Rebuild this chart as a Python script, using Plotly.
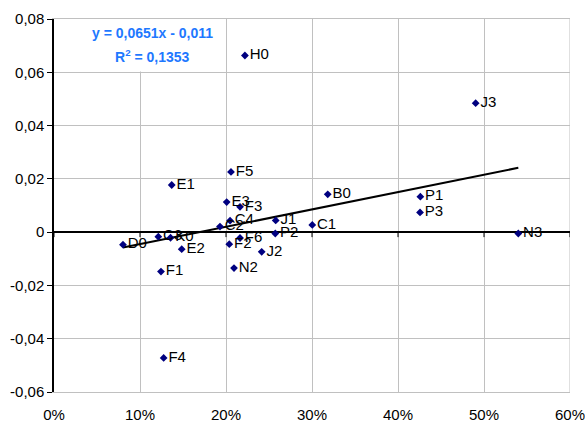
import plotly.graph_objects as go

# Share of sample (x) vs. relative change (y) for each group
labels = ["D0", "C3", "K0", "E2", "F1", "E1", "F4", "F5", "E3", "F3", "C4", "C2",
          "F6", "F2", "N2", "J2", "J1", "P2", "C1", "B0", "H0", "J3", "P1", "P3", "N3"]
x_vals = [0.0802, 0.1213, 0.1355, 0.1485, 0.1244, 0.1369, 0.1275, 0.2058, 0.2008,
          0.2163, 0.2047, 0.1930, 0.2163, 0.2038, 0.2093, 0.2415, 0.2578, 0.2573,
          0.3003, 0.3183, 0.2220, 0.4903, 0.4260, 0.4256, 0.5399]
y_vals = [-0.0047, -0.0017, -0.0021, -0.0064, -0.0148, 0.0177, -0.0472, 0.0226,
          0.0113, 0.0095, 0.0043, 0.0021, -0.0022, -0.0045, -0.0135, -0.0074,
          0.0044, -0.0005, 0.0027, 0.0142, 0.0663, 0.0484, 0.0133, 0.0074, -0.0005]

# Linear trend fitted to the points
slope = 0.0651
intercept = -0.011
r_squared = 0.1353

x_ticks = [0, 0.1, 0.2, 0.3, 0.4, 0.5, 0.6]
x_tick_text = ["0%", "10%", "20%", "30%", "40%", "50%", "60%"]
y_ticks = [-0.06, -0.04, -0.02, 0, 0.02, 0.04, 0.06, 0.08]
y_tick_text = ["-0,06", "-0,04", "-0,02", "0", "0,02", "0,04", "0,06", "0,08"]

FONT = "Liberation Sans, Arial, sans-serif"
GRID = "#c0c0c0"

fig = go.Figure()

x_min, x_max = min(x_vals), max(x_vals)
fig.add_trace(go.Scatter(
    x=[x_min, x_max],
    y=[slope * x_min + intercept, slope * x_max + intercept],
    mode="lines", line=dict(color="black", width=2),
    hoverinfo="skip", showlegend=False,
))

fig.add_trace(go.Scatter(
    x=x_vals, y=y_vals, text=labels,
    mode="markers+text", textposition="middle right",
    marker=dict(symbol="diamond", size=6, color="#000080"),
    textfont=dict(family=FONT, size=15, color="black"),
    showlegend=False,
))

shapes = []
# tick marks hanging from the horizontal zero axis
for t in x_ticks:
    shapes.append(dict(type="line", xref="x", yref="y", x0=t, x1=t,
                       ysizemode="pixel", yanchor=0, y0=0, y1=-5,
                       line=dict(color="black", width=1)))
# right border of the plot area
shapes.append(dict(type="line", xref="x", yref="y", x0=0.6, x1=0.6, y0=-0.06, y1=0.08,
                   line=dict(color=GRID, width=1), layer="below"))
# white panel behind the regression equation
shapes.append(dict(type="rect", xref="x", yref="y", x0=0.0407, x1=0.1907,
                   y0=0.0603, y1=0.0825, fillcolor="white", line=dict(width=0),
                   layer="above"))
fig.update_layout(shapes=shapes)

eq_color = "#1E78FF"
fig.add_annotation(xref="x", yref="y", x=0.115, y=0.0747, showarrow=False,
                   text=f"<b>y = {slope:.4f}x - {abs(intercept):.3f}</b>".replace(".", ","),
                   font=dict(family=FONT, size=14, color=eq_color))
fig.add_annotation(xref="x", yref="y", x=0.115, y=0.0660, showarrow=False,
                   text=f"<b>R<sup>2</sup> = {r_squared:.4f}</b>".replace(".", ","),
                   font=dict(family=FONT, size=14, color=eq_color))

fig.update_xaxes(
    range=[0, 0.6], tickvals=x_ticks, ticktext=x_tick_text,
    showgrid=True, gridcolor=GRID, gridwidth=1, zeroline=False,
    showline=True, linecolor=GRID, mirror=True,
    ticks="outside", ticklen=9, tickcolor="rgba(0,0,0,0)",
    tickfont=dict(family=FONT, size=15, color="black"),
    automargin=False, ticklabeloverflow="allow",
)
fig.update_yaxes(
    range=[-0.06, 0.08], tickvals=y_ticks, ticktext=y_tick_text,
    showgrid=True, gridcolor=GRID, gridwidth=1,
    zeroline=True, zerolinecolor="black", zerolinewidth=1.5,
    showline=True, linecolor="black", linewidth=1.5,
    ticks="outside", ticklen=5, tickcolor="black",
    tickfont=dict(family=FONT, size=15, color="black"),
    automargin=False, ticklabeloverflow="allow",
)

fig.update_layout(
    width=585, height=426,
    margin=dict(l=54, r=15, t=19, b=34),
    paper_bgcolor="white", plot_bgcolor="white",
    font=dict(family=FONT),
)

fig.write_html("out.html")
